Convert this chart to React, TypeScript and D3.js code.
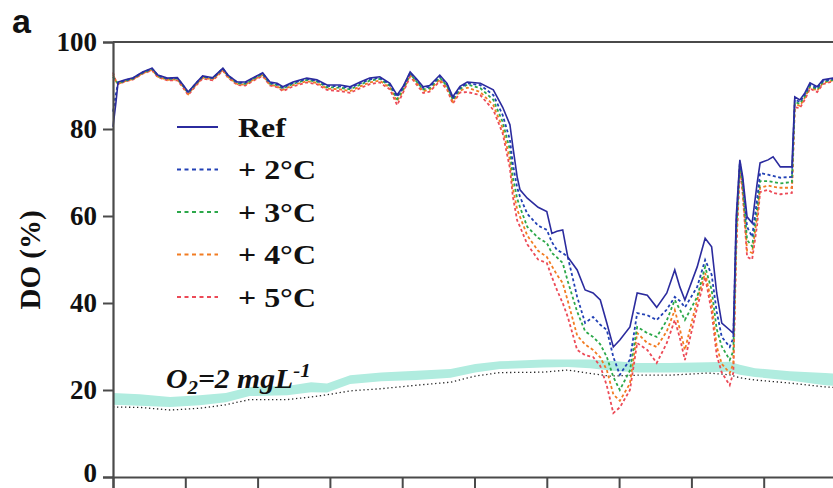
import React, { useEffect, useRef } from 'react';
import * as d3 from 'd3';

// shared x positions (time, axis units 0-100)
const xVals = [
  0, 0.4, 0.7, 1.7, 2.8, 4.1, 5.4, 6.2, 7.5, 8.9, 9.7, 10.4, 11.6, 12.4, 13.8, 15.2, 15.9, 17.2, 18.3, 19.4,
  20.7, 21.7, 22.7, 23.5, 24.9, 26.8, 28.2, 29.6, 31.4, 32.8, 34.2, 35.5, 36.9, 38.3, 39.3, 40.1, 41.1, 42.0, 42.9, 43.8,
  45.2, 46.2, 47.0, 48.0, 49.0, 50.8, 52.6, 53.9, 54.9, 55.3, 55.9, 56.3, 57.3, 58.8, 60.0, 60.7, 61.4, 62.2, 62.9, 64.2,
  65.3, 66.4, 67.4, 68.3, 69.2, 70.1, 71.5, 72.5, 73.9, 75.2, 76.6, 77.7, 78.4, 79.1, 80.8, 81.9, 82.8, 83.5, 84.2, 85.3,
  85.8, 86.2, 86.7, 87.1, 87.7, 88.4, 89.1, 89.5, 90.6, 91.3, 92.3, 93.9, 94.3, 95.0, 95.7, 96.4, 97.4, 98.2, 99.6,
];

const refVals = [
  80.5, 86, 90.8, 91.3, 91.8, 93.1, 94, 92.4, 91.7, 91.8, 90.1, 88.5, 90.8, 92.2, 91.8, 94, 92.4, 90.8, 90.8, 91.8,
  92.9, 90.8, 90.5, 89.7, 90.8, 91.7, 91.3, 90.1, 90.1, 89.7, 90.8, 91.7, 92.0, 90.5, 87.8, 89.7, 93.1, 91.5, 89.7, 90.0,
  92.4, 90.5, 87.4, 89.8, 90.8, 90.5, 89.0, 85.0, 81, 76, 69, 66, 64.1, 62, 61, 56, 56.5, 56.8, 50.6, 47.6,
  43, 42.3, 40.7, 35.4, 29.9, 31.5, 34.5, 42.3, 41.8, 39, 42.3, 47.6, 43.7, 40.7, 48.3, 54.9, 52.9, 42.3, 35.4, 33.8,
  33, 59.8, 72.9, 69, 59.8, 58.4, 67.6, 72.2, 72.9, 73.6, 71.3, 71.3, 87.4, 86.7, 88.3, 90.6, 89.7, 91.3, 91.7,
];

const plus2Vals = [
  84, 88, 90.6, 91.2, 91.7, 93.0, 93.9, 92.3, 91.6, 91.7, 90.0, 88.4, 90.7, 92.1, 91.7, 93.9, 92.3, 90.7, 90.6, 91.7,
  92.8, 90.6, 90.3, 89.5, 90.6, 91.5, 91.1, 89.9, 89.8, 89.4, 90.5, 91.4, 91.8, 90.2, 87.4, 89.4, 92.9, 91.2, 89.4, 89.7,
  92.1, 90.2, 87.0, 89.5, 90.5, 90.1, 87.8, 83.2, 77.5, 72, 66.5, 64.4, 60.5, 57.8, 56.8, 54, 52.2, 51.5, 50.6, 41.4,
  35.4, 36.8, 35, 33.8, 27.6, 23.5, 27, 37.7, 37.2, 36.1, 38.5, 41.4, 40.5, 39, 43.7, 49.9, 46.5, 38, 32.2, 29.9,
  32, 58, 72.5, 68, 57.5, 55.2, 64, 69.9, 69.5, 69.2, 68.8, 69, 86.8, 86.2, 88, 90.2, 89.4, 91, 91.5,
];

const plus3Vals = [
  92, 91, 90.5, 91.1, 91.6, 92.9, 93.8, 92.2, 91.5, 91.6, 89.9, 88.3, 90.6, 92.0, 91.6, 93.8, 92.2, 90.5, 90.4, 91.5,
  92.6, 90.4, 90.1, 89.3, 90.4, 91.3, 90.9, 89.6, 89.5, 89.1, 90.2, 91.1, 91.5, 89.9, 86.9, 89.1, 92.7, 90.9, 89.1, 89.4,
  91.8, 89.9, 86.7, 89.2, 90.2, 89.4, 86.7, 81.6, 75.2, 69, 64, 62, 57.5, 55, 53.8, 51.5, 50.5, 49.2, 45, 38,
  33.5, 32.2, 30.5, 27.6, 23, 20, 24.5, 34.5, 33.1, 32.2, 36, 40.7, 38.5, 36.1, 41.4, 48.3, 43, 34, 30, 26.9,
  29, 56, 72, 67, 54.5, 53, 62, 68, 68, 67.8, 67.5, 67.8, 86.2, 85.8, 87.6, 89.9, 89.1, 90.8, 91.3,
];

const plus4Vals = [
  92.5, 91, 90.4, 91.0, 91.5, 92.8, 93.6, 92.0, 91.3, 91.4, 89.7, 88.0, 90.4, 91.8, 91.4, 93.6, 92.0, 90.3, 90.2, 91.3,
  92.4, 90.2, 89.8, 89.0, 90.1, 91.0, 90.6, 89.3, 89.1, 88.7, 89.8, 90.7, 91.1, 89.5, 86.4, 88.7, 92.4, 90.6, 88.7, 89.0,
  91.4, 89.5, 86.3, 88.8, 89.5, 88.5, 85.5, 80.2, 72.9, 66.5, 61.5, 59.8, 55.5, 52, 50.6, 48.5, 46.5, 44.6, 40.5, 32.5,
  30.5, 29.2, 27.5, 24.6, 19, 17.5, 21.5, 33.1, 30.8, 29.9, 33.5, 38.4, 34, 29.2, 40.7, 46.9, 40, 30, 26, 23.9,
  26, 54, 71.5, 66, 52, 51.5, 60, 66.5, 67, 66.7, 66.5, 66.5, 85.8, 85.3, 87.2, 89.6, 88.8, 90.6, 91.2,
];

const plus5Vals = [
  93, 91, 90.3, 90.9, 91.4, 92.7, 93.5, 91.9, 91.2, 91.2, 89.5, 87.8, 90.2, 91.6, 91.2, 93.4, 91.8, 90.1, 90.0, 91.1,
  92.2, 90.0, 89.6, 88.7, 89.8, 90.7, 90.3, 89.0, 88.7, 88.3, 89.4, 90.3, 90.7, 89.1, 85.5, 88.3, 92.1, 90.2, 88.3, 88.6,
  91.0, 89.1, 85.8, 88.4, 88.5, 87.8, 84.4, 79, 71, 64.5, 59, 57.5, 53.5, 50, 49.2, 46, 43, 40, 36.8, 29.2,
  28, 27.6, 25.5, 21, 14.7, 16, 20, 30.8, 29.2, 26.2, 30.8, 36.1, 32, 26.9, 39, 46, 38, 28, 24, 21.1,
  24, 52, 71, 65, 50.6, 50, 58, 65.5, 66, 65.3, 65, 65.3, 85, 84.8, 86.8, 89.3, 88.5, 90.3, 91,
];

// O2 = 2 mg/L threshold: band (warming scenarios) and dotted reference
const o2X = [0, 3.7, 7.9, 12.0, 15.6, 18.9, 24.1, 27.4, 29.6, 32.8, 37.1, 42.0, 46.7, 50.1, 53.5, 59.5, 62.9, 66.0, 68.7, 72.6, 77.0, 82.3, 85.3, 86.7, 88.8, 93.6, 98.5, 99.6];
const o2Low = [16.6, 16.4, 16.1, 16.5, 17.2, 18.6, 18.8, 19.5, 19.4, 21.4, 22.0, 22.3, 22.8, 24.0, 24.8, 25.2, 25.3, 25.0, 24.5, 24.0, 24.0, 24.1, 24.2, 23.5, 23.0, 22.2, 21.1, 21.0];
const o2High = [19.3, 19.0, 18.4, 18.8, 19.3, 20.7, 20.9, 21.8, 21.5, 23.4, 24.0, 24.4, 24.8, 26.0, 26.6, 27.0, 27.0, 27.0, 26.7, 26.2, 26.2, 26.4, 26.5, 25.8, 25.0, 24.3, 23.9, 23.8];
const o2Ref = [16.1, 16.0, 15.4, 15.8, 16.6, 17.8, 17.8, 18.4, 18.9, 19.8, 20.3, 21.1, 21.8, 23.2, 24.0, 24.1, 24.6, 23.8, 23.2, 23.4, 23.4, 23.9, 23.5, 22.8, 22.3, 21.6, 20.7, 20.6];

const seriesNames = ['Ref', '+ 2°C', '+ 3°C', '+ 4°C', '+ 5°C'];
const seriesValues = [refVals, plus2Vals, plus3Vals, plus4Vals, plus5Vals];
const seriesColors = ['#2b2b9e', '#2241b5', '#2ca84a', '#f27c22', '#ec4a57'];
const yTicks = [0, 20, 40, 60, 80, 100];
const xTicks = [0, 10, 20, 30, 40, 50, 60, 70, 80, 90, 100];

const FONT = '"Liberation Serif", "Times New Roman", serif';

const App: React.FC = () => {
  const ref = useRef<SVGSVGElement>(null);

  useEffect(() => {
    const W = 833;
    const H = 488;
    const svg = d3.select(ref.current);
    svg.selectAll('*').remove();

    const x = d3.scaleLinear().domain([0, 100]).range([113, 836]);
    const y = d3.scaleLinear().domain([0, 100]).range([477, 42]);

    // O2 threshold band
    const band = o2X.map((v, i) => ({ x: v, lo: o2Low[i], hi: o2High[i] }));
    svg
      .append('path')
      .datum(band)
      .attr('fill', '#b0ecdf')
      .attr('d', d3.area<any>().x((d) => x(d.x)).y0((d) => y(d.lo)).y1((d) => y(d.hi)));

    svg
      .append('path')
      .datum(o2X.map((v, i) => [v, o2Ref[i]] as [number, number]))
      .attr('fill', 'none')
      .attr('stroke', '#222')
      .attr('stroke-width', 1.3)
      .attr('stroke-dasharray', '1.3,2.7')
      .attr('d', d3.line().x((d) => x(d[0])).y((d) => y(d[1])));

    // lines, warmest first so Ref sits on top
    const line = d3.line<number>().x((_, i) => x(xVals[i])).y((d) => y(d));
    for (let k = seriesValues.length - 1; k >= 0; k--) {
      svg
        .append('path')
        .attr('fill', 'none')
        .attr('stroke', seriesColors[k])
        .attr('stroke-width', k === 0 ? 1.6 : 1.8)
        .attr('stroke-dasharray', k === 0 ? null : '3,2.5')
        .attr('d', line(seriesValues[k]));
    }

    // frame + axes
    const axisColor = '#4a4a4a';
    svg.append('line').attr('x1', 113).attr('x2', W).attr('y1', y(100)).attr('y2', y(100))
      .attr('stroke', axisColor).attr('stroke-width', 2.2);

    const yAxis = svg.append('g').attr('transform', 'translate(113,0)')
      .call(d3.axisLeft(y).tickValues(yTicks).tickSize(10).tickPadding(6).tickFormat(d3.format('d')));
    yAxis.select('.domain').attr('stroke', axisColor).attr('stroke-width', 2.2);
    yAxis.selectAll('.tick line').attr('stroke', axisColor).attr('stroke-width', 2);
    yAxis.selectAll('.tick text')
      .attr('font-family', FONT).attr('font-weight', 'bold').attr('font-size', 27).attr('fill', '#111')
      .attr('dy', (d: any) => (d === 0 ? '0.18em' : '0.32em'));

    const xAxis = svg.append('g').attr('transform', `translate(0,${y(0)})`)
      .call(d3.axisBottom(x).tickValues(xTicks).tickSize(12).tickFormat(() => ''));
    xAxis.select('.domain').attr('stroke', axisColor).attr('stroke-width', 2.2);
    xAxis.selectAll('.tick line').attr('stroke', axisColor).attr('stroke-width', 2);

    // axis title
    svg.append('text')
      .attr('transform', `translate(40,260) rotate(-90)`)
      .attr('text-anchor', 'middle')
      .attr('font-family', FONT).attr('font-weight', 'bold').attr('font-size', 29).attr('fill', '#111')
      .text('DO (%)');

    // panel letter
    svg.append('text')
      .attr('x', 12).attr('y', 33)
      .attr('font-family', '"Liberation Sans", Arial, sans-serif').attr('font-weight', 'bold')
      .attr('font-size', 34).attr('fill', '#111')
      .text('a');

    // legend
    seriesNames.forEach((name, i) => {
      const ly = 127 + i * 42.5;
      svg.append('line')
        .attr('x1', 177).attr('x2', 218).attr('y1', ly).attr('y2', ly)
        .attr('stroke', seriesColors[i]).attr('stroke-width', 1.8)
        .attr('stroke-dasharray', i === 0 ? null : '4,3.5');
      svg.append('text')
        .attr('transform', `translate(238,${ly}) scale(1.14,1)`)
        .attr('dy', '0.35em')
        .attr('font-family', FONT).attr('font-weight', 'bold').attr('font-size', 28).attr('fill', '#111')
        .text(name);
    });

    // O2 annotation
    const ann = svg.append('text')
      .attr('transform', 'translate(166,388) scale(1.1,1)')
      .attr('font-family', FONT).attr('font-weight', 'bold').attr('font-style', 'italic')
      .attr('font-size', 27).attr('fill', '#111');
    ann.append('tspan').text('O');
    ann.append('tspan').attr('font-size', 19).attr('dy', 6).text('2');
    ann.append('tspan').attr('dy', -6).text('=2 mgL');
    ann.append('tspan').attr('font-size', 19).attr('dy', -11).text('-1');

    svg.attr('width', W).attr('height', H);
  }, []);

  return (
    <svg
      ref={ref}
      width={833}
      height={488}
      style={{ position: 'absolute', left: 0, top: 0, background: '#fff' }}
    />
  );
};

export default App;
